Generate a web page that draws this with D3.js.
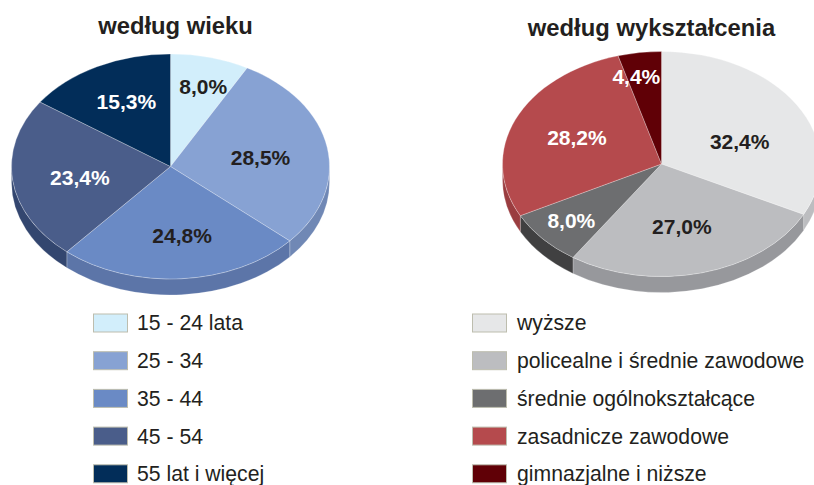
<!DOCTYPE html>
<html>
<head>
<meta charset="utf-8">
<script src="https://cdn.jsdelivr.net/npm/d3@7"></script>
<style>
  html, body { margin: 0; padding: 0; background: #fff; overflow: hidden; }
  text { font-family: "Liberation Sans", Arial, sans-serif; }
</style>
</head>
<body>
<div id="chart"></div>
<script>
// values
const ageLabels = ["15 - 24 lata", "25 - 34", "35 - 44", "45 - 54", "55 lat i więcej"];
const ageValues = [8.0, 28.5, 24.8, 23.4, 15.3];
const ageColors = ["#d2eefb", "#87a2d3", "#6a8ac5", "#4a5d8a", "#022d59"];
const ageWalls = ["#b5cedb", "#7088b5", "#5c75a8", "#33466f", "#011f3f"];
const ageLabelColors = ["#231f20", "#231f20", "#231f20", "#fff", "#fff"];

const eduLabels = ["wyższe", "policealne i średnie zawodowe", "średnie ogólnokształcące", "zasadnicze zawodowe", "gimnazjalne i niższe"];
const eduValues = [32.4, 27.0, 8.0, 28.2, 4.4];
const eduColors = ["#e6e7e8", "#bcbdc0", "#6d6e70", "#b54a4d", "#600006"];
const eduWalls = ["#bcbdc0", "#97989c", "#404041", "#9a3d40", "#400004"];
const eduLabelColors = ["#231f20", "#231f20", "#fff", "#fff", "#fff"];

const width = 814;
const height = 485;
const rx = 159;
const ry = 112.5;
const depth = 16;
const rowStep = 37.7;

const pl = d3.formatLocale({ decimal: ",", thousands: " ", grouping: [3], currency: ["", ""] });
const fmt = pl.format(".1f");

const svg = d3.select("#chart").append("svg")
  .attr("width", width)
  .attr("height", height);

function drawPie(opts) {
  const { title, titleX, titleY, cx, cy, values, colors, walls, labelColors, nudges } = opts;
  const g = svg.append("g");

  g.append("text")
    .attr("x", titleX)
    .attr("y", titleY)
    .attr("text-anchor", "middle")
    .attr("font-size", "23.8px")
    .attr("font-weight", "bold")
    .attr("fill", "#231f20")
    .text(title);

  const arcs = d3.pie().sort(null)(values);
  const point = (a, dy) => [cx + rx * Math.sin(a), cy - ry * Math.cos(a) + dy];

  // side wall, only the front half of the ellipse shows
  arcs.forEach((d, i) => {
    const a0 = Math.max(d.startAngle, Math.PI / 2);
    const a1 = Math.min(d.endAngle, Math.PI * 1.5);
    if (a1 <= a0) return;
    const p0 = point(a0, 0);
    const p1 = point(a1, 0);
    const q0 = point(a0, depth);
    const q1 = point(a1, depth);
    g.append("path")
      .attr("d", `M${p0} A${rx},${ry} 0 0 1 ${p1} L${q1} A${rx},${ry} 0 0 0 ${q0} Z`)
      .attr("fill", walls[i])
      .attr("stroke", "#fff")
      .attr("stroke-opacity", 0.35)
      .attr("stroke-width", 0.6);
  });

  // top face: a flat pie squeezed into an ellipse
  const arc = d3.arc().innerRadius(0).outerRadius(rx);
  g.append("g")
    .attr("transform", `translate(${cx},${cy}) scale(1,${ry / rx})`)
    .selectAll("path")
    .data(arcs)
    .join("path")
    .attr("d", arc)
    .attr("fill", (d, i) => colors[i])
    .attr("stroke", "#fff")
    .attr("stroke-opacity", 0.45)
    .attr("stroke-width", 0.7);

  const labelArc = d3.arc().innerRadius(rx * 0.6).outerRadius(rx * 0.6);
  arcs.forEach((d, i) => {
    const c = labelArc.centroid(d);
    g.append("text")
      .attr("x", cx + c[0] + nudges[i][0])
      .attr("y", cy + c[1] * ry / rx + nudges[i][1])
      .attr("dy", "0.35em")
      .attr("text-anchor", "middle")
      .attr("font-size", "21px")
      .attr("font-weight", "bold")
      .attr("fill", labelColors[i])
      .text(fmt(d.value) + "%");
  });
}

function drawLegend(labels, colors, x, textX) {
  const y = d3.scaleLinear().domain([0, 1]).range([323, 323 + rowStep]);
  const g = svg.append("g");
  labels.forEach((label, i) => {
    g.append("rect")
      .attr("x", x)
      .attr("y", y(i) - 9)
      .attr("width", 34)
      .attr("height", 18)
      .attr("fill", colors[i])
      .attr("stroke", "#bdbdae")
      .attr("stroke-width", 1);
    g.append("text")
      .attr("x", textX)
      .attr("y", y(i))
      .attr("dy", "0.35em")
      .attr("font-size", "21.2px")
      .attr("fill", "#231f20")
      .text(label);
  });
}

drawPie({
  title: "według wieku", titleX: 175.5, titleY: 34,
  cx: 170.5, cy: 166.5,
  values: ageValues, colors: ageColors, walls: ageWalls, labelColors: ageLabelColors,
  nudges: [[9, -14], [-4, 3], [5, 2], [4, 3], [0, -5]]
});

drawPie({
  title: "według wykształcenia", titleX: 651.5, titleY: 36,
  cx: 661.5, cy: 164,
  values: eduValues, colors: eduColors, walls: eduWalls, labelColors: eduLabelColors,
  nudges: [[-3, 13], [-4, -3], [-19, 12], [3, 0], [-12, -20]]
});

drawLegend(ageLabels, ageColors, 93.5, 137);
drawLegend(eduLabels, eduColors, 472.5, 517);
</script>
</body>
</html>
